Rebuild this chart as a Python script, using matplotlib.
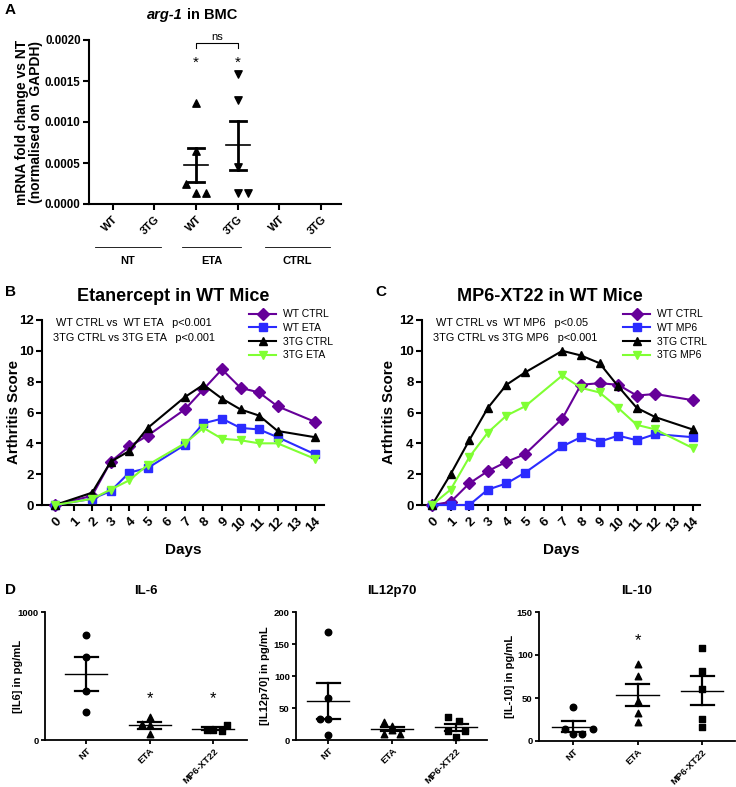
import numpy as np
import matplotlib
matplotlib.use('Agg')
import matplotlib.pyplot as plt
from matplotlib.lines import Line2D
from matplotlib.offsetbox import TextArea, HPacker, AnchoredOffsetbox

plt.rcParams['font.family'] = ['Liberation Sans', 'DejaVu Sans']

W, H = 736, 787

# ---------------- datos panel A ----------------
a_cats = ['WT', '3TG', 'WT', '3TG', 'WT', '3TG']
a_groups = ['NT', 'ETA', 'CTRL']
a_wt_eta = [0.00123, 0.00065, 0.00025, 0.00013, 0.00013]
a_wt_eta_jit = [0, 0, -0.24, 0, 0.24]
a_3tg_eta = [0.00159, 0.00127, 0.00045, 0.00013, 0.00014]
a_3tg_eta_jit = [0, 0, 0, 0, 0.24]

# ---------------- datos paneles B y C ----------------
b_days = [0, 2, 3, 4, 5, 7, 8, 9, 10, 11, 12, 14]
b_wt_ctrl = [0, 0.6, 2.8, 3.8, 4.5, 6.2, 7.5, 8.8, 7.6, 7.3, 6.4, 5.4]
b_wt_eta = [0, 0.4, 0.9, 2.1, 2.4, 3.9, 5.3, 5.6, 5.0, 4.9, 4.4, 3.3]
b_3tg_ctrl = [0, 0.8, 2.8, 3.5, 5.0, 7.0, 7.8, 6.9, 6.2, 5.8, 4.8, 4.4]
b_3tg_eta = [0, 0.4, 1.0, 1.6, 2.6, 4.0, 5.0, 4.3, 4.2, 4.0, 4.0, 3.0]

c_days = [0, 1, 2, 3, 4, 5, 7, 8, 9, 10, 11, 12, 14]
c_wt_ctrl = [0, 0.2, 1.4, 2.2, 2.8, 3.3, 5.6, 7.8, 7.9, 7.8, 7.1, 7.2, 6.8]
c_wt_mp6 = [0, 0, 0, 1.0, 1.4, 2.1, 3.8, 4.4, 4.1, 4.5, 4.2, 4.6, 4.4]
c_3tg_ctrl = [0, 2.0, 4.2, 6.3, 7.8, 8.6, 10.0, 9.7, 9.2, 7.7, 6.3, 5.7, 4.9]
c_3tg_mp6 = [0, 1.0, 3.1, 4.7, 5.8, 6.4, 8.4, 7.6, 7.3, 6.3, 5.2, 4.9, 3.7]

# ---------------- datos panel D ----------------
d_cats = ['NT', 'ETA', 'MP6-XT22']
il6 = [[820, 650, 380, 220], [180, 125, 115, 45], [120, 75, 70, 80]]
il6_jit = [[0, 0, 0, 0], [0, -0.13, 0, 0], [0.22, 0, 0.14, -0.1]]
il12 = [[168, 66, 33, 33, 8], [28, 22, 15, 10, 10], [36, 29, 14, 14, 5]]
il12_jit = [[0, 0, -0.13, 0, 0], [-0.13, 0, 0, 0.13, -0.13], [-0.13, 0.05, -0.13, 0.13, 0]]
il10 = [[40, 14, 14, 8, 8], [89, 76, 47, 33, 22], [108, 81, 61, 26, 16]]
il10_jit = [[0, -0.13, 0.3, 0, 0.13], [0, 0, 0, 0, 0], [0, 0, 0, 0, 0]]


def ax_px(left, top, right, bottom):
    return fig.add_axes([left / W, 1 - bottom / H, (right - left) / W, (bottom - top) / H])


def estilo(ax, lw=1.5):
    for s in ['top', 'right']:
        ax.spines[s].set_visible(False)
    for s in ['left', 'bottom']:
        ax.spines[s].set_linewidth(lw)
    ax.tick_params(width=lw, length=4)


def media_sem(ax, x, vals, hw_mean, hw_err, lw_err=2.0, lw_mean=1.2):
    v = np.array(vals)
    m = v.mean()
    sem = v.std(ddof=1) / np.sqrt(len(v))
    ax.plot([x - hw_mean, x + hw_mean], [m, m], color='black', lw=lw_mean, zorder=3)
    ax.plot([x, x], [m - sem, m + sem], color='black', lw=lw_err, zorder=3)
    for y in (m - sem, m + sem):
        ax.plot([x - hw_err, x + hw_err], [y, y], color='black', lw=lw_err, zorder=3)


fig = plt.figure(figsize=(W / 100, H / 100), dpi=100)

# ================= Panel A =================
ax = ax_px(89, 40, 341, 204)
estilo(ax)
ax.set_ylim(0, 0.0020)
ax.set_xlim(-0.57, 5.48)
ax.set_yticks([0, 0.0005, 0.0010, 0.0015, 0.0020])
ax.set_yticklabels(['0.0000', '0.0005', '0.0010', '0.0015', '0.0020'],
                   fontsize=8.3, fontweight='bold')
ax.tick_params(axis='y', pad=2)
ax.set_xticks(range(6))
ax.set_xticklabels(a_cats, rotation=45, fontsize=8, fontweight='bold', ha='right',
                   rotation_mode='anchor')
ax.set_ylabel('mRNA fold change vs NT\n(normalised on  GAPDH)', fontsize=10,
              fontweight='bold', linespacing=1.0)
ax.yaxis.set_label_coords((43 - 89) / 252, 0.5)
for x0, vals, jit, mk in [(2, a_wt_eta, a_wt_eta_jit, '^'), (3, a_3tg_eta, a_3tg_eta_jit, 'v')]:
    ax.scatter(np.array(jit) + x0, vals, marker=mk, s=28, color='black', zorder=4, clip_on=False)
    media_sem(ax, x0, vals, 0.29, 0.19)
    ax.text(x0, 0.00172, '*', ha='center', va='center', fontsize=11)
ax.plot([2, 2, 3, 3], [0.00190, 0.00196, 0.00196, 0.00190], color='black', lw=0.8, clip_on=False)
ax.text(2.5, 0.00197, 'ns', ha='center', va='bottom', fontsize=8)
trans = ax.get_xaxis_transform()
for (x1, x2), lab in zip([(-0.43, 1.15), (1.67, 3.09), (3.66, 5.22)], a_groups):
    ax.plot([x1, x2], [-0.262, -0.262], color='black', lw=0.6, transform=trans, clip_on=False)
    ax.text((x1 + x2) / 2, -0.32, lab, ha='center', va='top', fontsize=8,
            fontweight='bold', transform=trans)

# titulo con parte en cursiva
t1 = TextArea('arg-1', textprops=dict(fontsize=10.5, fontweight='bold', fontstyle='italic'))
t2 = TextArea('in BMC', textprops=dict(fontsize=10.5, fontweight='bold'))
caja = HPacker(children=[t1, t2], align='baseline', pad=0, sep=3)
fig.add_artist(AnchoredOffsetbox(loc='center', child=caja, pad=0, borderpad=0, frameon=False,
                                 bbox_to_anchor=(192 / W, 1 - 15 / H),
                                 bbox_transform=fig.transFigure))

# ================= Paneles B y C =================
estilos = [('#660099', 'D', 6), ('#2b2bff', 's', 6), ('black', '^', 6), ('#80ff33', 'v', 6)]


def panel_linea(pos, dias, series, nombres, titulo, tit_x, textos, leg_x, lab_x):
    ax = ax_px(*pos)
    estilo(ax)
    for (col, mk, ms), ys in zip(estilos, series):
        ax.plot(dias, ys, color=col, marker=mk, ms=ms, lw=1.5, clip_on=False, zorder=3)
    ax.set_ylim(0, 12)
    ax.set_yticks(range(0, 13, 2))
    ax.set_yticklabels([str(v) for v in range(0, 13, 2)], fontsize=9.5, fontweight='bold')
    ax.tick_params(axis='y', pad=2)
    ax.set_xticks(range(15))
    ax.set_xticklabels([str(v) for v in range(15)], rotation=45, fontsize=9.5,
                       fontweight='bold', ha='right', rotation_mode='anchor')
    ax.set_ylabel('Arthritis Score', fontsize=10.8, fontweight='bold')
    ax.yaxis.set_label_coords((lab_x - pos[0]) / (pos[2] - pos[0]), 0.5)
    ax.set_xlabel('Days', fontsize=11, fontweight='bold', labelpad=6)
    ax.set_title(titulo, fontsize=13, fontweight='bold', pad=14, x=tit_x)
    ax.text(0.05, 0.985, textos[0], transform=ax.transAxes, fontsize=7.8, va='center')
    ax.text(0.04, 0.905, textos[1], transform=ax.transAxes, fontsize=7.8, va='center')
    handles = [Line2D([], [], color=c, marker=m, ms=ms, lw=1.5) for c, m, ms in estilos]
    ax.legend(handles, nombres, loc='upper left', bbox_to_anchor=(leg_x / W, 1 - 300 / H),
              bbox_transform=fig.transFigure, frameon=False, fontsize=7.5,
              handlelength=2.6, handletextpad=0.6, labelspacing=0.35)
    return ax


axb = panel_linea((42, 320, 324, 505), b_days, [b_wt_ctrl, b_wt_eta, b_3tg_ctrl, b_3tg_eta],
                  ['WT CTRL', 'WT ETA', '3TG CTRL', '3TG ETA'], 'Etanercept in WT Mice', 0.465,
                  ['WT CTRL vs  WT ETA   p<0.001', '3TG CTRL vs 3TG ETA   p<0.001'], 240, 21)
axb.set_xlim(-0.7, 14.5)
axc = panel_linea((422, 320, 700, 505), c_days, [c_wt_ctrl, c_wt_mp6, c_3tg_ctrl, c_3tg_mp6],
                  ['WT CTRL', 'WT MP6', '3TG CTRL', '3TG MP6'], 'MP6-XT22 in WT Mice', 0.46,
                  ['WT CTRL vs  WT MP6   p<0.05', '3TG CTRL vs 3TG MP6   p<0.001'], 614, 396)
axc.set_xlim(-0.54, 14.4)

# ================= Panel D =================
marcadores = ['o', '^', 's']


def panel_dots(pos, datos, jits, titulo, ylab, ymax, yticks, xlim, estrellas, lab_x):
    ax = ax_px(*pos)
    estilo(ax, lw=1.3)
    ax.set_ylim(0, ymax)
    ax.set_xlim(*xlim)
    ax.set_yticks(yticks)
    ax.set_yticklabels([str(v) for v in yticks], fontsize=6.8, fontweight='bold')
    ax.set_xticks(range(3))
    ax.set_xticklabels(d_cats, rotation=45, fontsize=6.8, fontweight='bold', ha='right',
                       rotation_mode='anchor')
    ax.tick_params(length=3)
    ax.tick_params(axis='y', pad=1.5)
    ax.tick_params(axis='x', pad=1.5)
    ax.set_ylabel(ylab, fontsize=8, fontweight='bold')
    ax.yaxis.set_label_coords((lab_x - pos[0]) / (pos[2] - pos[0]), 0.5)
    ax.set_title(titulo, fontsize=9.5, fontweight='bold', pad=13)
    for i, (vals, jit) in enumerate(zip(datos, jits)):
        ax.scatter(np.array(jit) + i, vals, marker=marcadores[i], s=22, color='black',
                   zorder=4, clip_on=False)
        media_sem(ax, i, vals, 0.33, 0.18, lw_err=1.6, lw_mean=1.0)
    for i, y in estrellas:
        ax.text(i, y, '*', ha='center', va='center', fontsize=12)
    return ax


panel_dots((45, 612, 247, 740), il6, il6_jit, 'IL-6', '[IL6] in pg/mL', 1000, [0, 1000],
           (-0.65, 2.53), [(1, 320), (2, 320)], 23)
panel_dots((296, 612, 487, 740), il12, il12_jit, 'IL12p70', '[IL12p70] in pg/mL', 200,
           [0, 50, 100, 150, 200], (-0.5, 2.48), [], 270)
panel_dots((539, 612, 735, 741), il10, il10_jit, 'IL-10', '[IL-10] in pg/mL', 150,
           [0, 50, 100, 150], (-0.53, 2.51), [(1, 117)], 515)

# etiquetas de panel
for lab, x, y in [('A', 5, 10), ('B', 5, 292), ('C', 375, 292), ('D', 5, 590)]:
    fig.text(x / W, 1 - y / H, lab, fontsize=11, fontweight='bold', va='center')

plt.savefig('out.png', dpi=100)
